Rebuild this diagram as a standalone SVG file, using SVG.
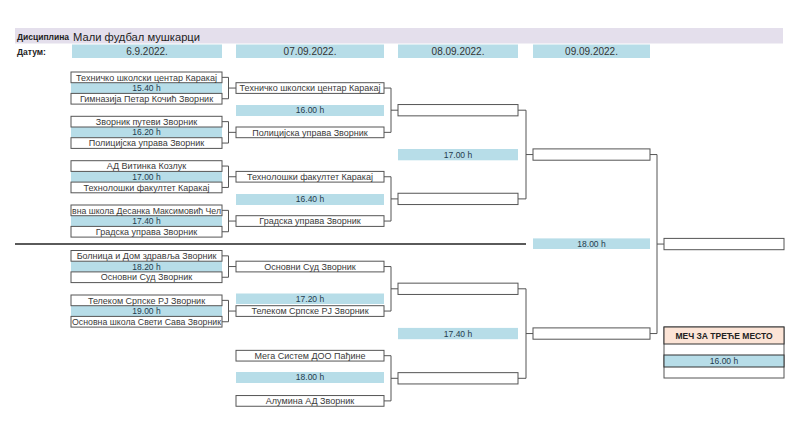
<svg xmlns="http://www.w3.org/2000/svg" width="800" height="445" viewBox="0 0 800 445">
<style>
.bg{fill:#ffffff}
.hdr{fill:#e4dfec}
.band{fill:#b7dde8}
.box{fill:#ffffff;stroke:#555555;stroke-width:1}
.t{font-family:"Liberation Sans",Arial,sans-serif;font-size:9px;fill:#3a3a3a;text-anchor:middle}
.tm{font-family:"Liberation Sans",Arial,sans-serif;font-size:8.5px;fill:#1f3b4d;text-anchor:middle}
.d{font-family:"Liberation Sans",Arial,sans-serif;font-size:10px;fill:#333333;text-anchor:middle}
.lb{font-family:"Liberation Sans",Arial,sans-serif;font-size:8.5px;font-weight:bold;fill:#222222}
.conn{fill:none;stroke:#555555;stroke-width:1}
</style>
<rect class="bg" x="0" y="0" width="800" height="445"/>
<g id="header">
<rect class="hdr" x="15" y="28" width="768" height="15.5"/>
<text class="lb" x="17" y="40">Дисциплина</text>
<text x="73" y="40.5" style="font-family:'Liberation Sans',Arial,sans-serif;font-size:11.2px;fill:#222">Мали фудбал мушкарци</text>
<text class="lb" x="17" y="55">Датум:</text>
</g>
<g id="dates">
<rect class="band" x="72" y="44.5" width="150" height="13.5"/><text class="d" x="147" y="55">6.9.2022.</text>
<rect class="band" x="236" y="44.5" width="148" height="13.5"/><text class="d" x="310" y="55">07.09.2022.</text>
<rect class="band" x="398" y="44.5" width="120" height="13.5"/><text class="d" x="458" y="55">08.09.2022.</text>
<rect class="band" x="533" y="44.5" width="117" height="13.5"/><text class="d" x="591.5" y="55">09.09.2022.</text>
</g>
<line id="divider" x1="15" y1="244" x2="526" y2="244" stroke="#5a5a5a" stroke-width="2"/>
<g id="connectors">
<path class="conn" d="M222 77.35H228.5V98.75H222M228.5 88.05H236"/>
<path class="conn" d="M222 121.65H228.5V143.05H222M228.5 132.35H236"/>
<path class="conn" d="M222 166.05H228.5V187.45H222M228.5 176.75H236"/>
<path class="conn" d="M222 210.35H228.5V231.75H222M228.5 221.05H236"/>
<path class="conn" d="M222 255.85H228.5V277.25H222M228.5 266.55H236"/>
<path class="conn" d="M222 300.35H228.5V321.75H222M228.5 311.05H236"/>
<path class="conn" d="M384 88.05H391V132.35H384M391 110.2H398"/>
<path class="conn" d="M384 176.75H391V221.05H384M391 198.9H398"/>
<path class="conn" d="M384 266.55H391V311.05H384M391 288.8H398"/>
<path class="conn" d="M384 355.7H391V400.9H384M391 378.3H398"/>
<path class="conn" d="M518 110.2H526V198.9H518M526 154.55H533"/>
<path class="conn" d="M518 288.8H526V378.3H518M526 333.55H533"/>
<path class="conn" d="M650 154.55H657V333.55H650M657 244.05H664"/>
</g>
<g id="m1">
<rect class="band" x="71" y="82.7" width="151" height="10.7"/>
<rect class="box" x="71" y="72" width="151" height="10.7"/>
<rect class="box" x="71" y="93.4" width="151" height="10.7"/>
<text class="t" x="146.5" y="80.5">Техничко школски центар Каракај</text>
<text class="tm" x="146.5" y="91.1">15.40 h</text>
<text class="t" x="146.5" y="101.9">Гимназија Петар Кочић Зворник</text>
</g>
<g id="m2">
<rect class="band" x="71" y="127" width="151" height="10.7"/>
<rect class="box" x="71" y="116.3" width="151" height="10.7"/>
<rect class="box" x="71" y="137.7" width="151" height="10.7"/>
<text class="t" x="146.5" y="124.8">Зворник путеви Зворник</text>
<text class="tm" x="146.5" y="135.4">16.20 h</text>
<text class="t" x="146.5" y="146.2">Полицијска управа Зворник</text>
</g>
<g id="m3">
<rect class="band" x="71" y="171.4" width="151" height="10.7"/>
<rect class="box" x="71" y="160.7" width="151" height="10.7"/>
<rect class="box" x="71" y="182.1" width="151" height="10.7"/>
<text class="t" x="146.5" y="169.2">АД Витинка Козлук</text>
<text class="tm" x="146.5" y="179.8">17.00 h</text>
<text class="t" x="146.5" y="190.6">Технолошки факултет Каракај</text>
</g>
<g id="m4">
<rect class="band" x="71" y="215.7" width="151" height="10.7"/>
<rect class="box" x="71" y="205" width="151" height="10.7"/>
<rect class="box" x="71" y="226.4" width="151" height="10.7"/>
<text class="t" x="72" y="213.5" style="text-anchor:start" textLength="149" lengthAdjust="spacingAndGlyphs">вна школа Десанка Максимовић Чел</text>
<text class="tm" x="146.5" y="224.1">17.40 h</text>
<text class="t" x="146.5" y="234.9">Градска управа Зворник</text>
</g>
<g id="m5">
<rect class="band" x="71" y="261.2" width="151" height="10.7"/>
<rect class="box" x="71" y="250.5" width="151" height="10.7"/>
<rect class="box" x="71" y="271.9" width="151" height="10.7"/>
<text class="t" x="146.5" y="259">Болница и Дом здравља Зворник</text>
<text class="tm" x="146.5" y="269.6">18.20 h</text>
<text class="t" x="146.5" y="280.4">Основни Суд Зворник</text>
</g>
<g id="m6">
<rect class="band" x="71" y="305.7" width="151" height="10.7"/>
<rect class="box" x="71" y="295" width="151" height="10.7"/>
<rect class="box" x="71" y="316.4" width="151" height="10.7"/>
<text class="t" x="146.5" y="303.5">Телеком Српске РЈ Зворник</text>
<text class="tm" x="146.5" y="314.1">19.00 h</text>
<text class="t" x="72" y="324.9" style="text-anchor:start" textLength="149" lengthAdjust="spacingAndGlyphs">Основна школа Свети Сава Зворник</text>
</g>
<g id="r2a"><rect class="box" x="236" y="82.7" width="148" height="10.7"/><text class="t" x="310" y="91.2">Техничко школски центар Каракај</text></g>
<g id="r2t1"><rect class="band" x="236" y="105" width="148" height="11"/><text class="tm" x="310" y="113.4">16.00 h</text></g>
<g id="r2b"><rect class="box" x="236" y="127" width="148" height="10.7"/><text class="t" x="310" y="135.5">Полицијска управа Зворник</text></g>
<g id="r2c"><rect class="box" x="236" y="171.4" width="148" height="10.7"/><text class="t" x="310" y="179.9">Технолошки факултет Каракај</text></g>
<g id="r2t2"><rect class="band" x="236" y="194" width="148" height="11"/><text class="tm" x="310" y="202.4">16.40 h</text></g>
<g id="r2d"><rect class="box" x="236" y="215.7" width="148" height="10.7"/><text class="t" x="310" y="224.2">Градска управа Зворник</text></g>
<g id="r2e"><rect class="box" x="236" y="261.2" width="148" height="10.7"/><text class="t" x="310" y="269.7">Основни Суд Зворник</text></g>
<g id="r2t3"><rect class="band" x="236" y="293.5" width="148" height="10.5"/><text class="tm" x="310" y="301.7">17.20 h</text></g>
<g id="r2f"><rect class="box" x="236" y="305.7" width="148" height="10.7"/><text class="t" x="310" y="314.2">Телеком Српске РЈ Зворник</text></g>
<g id="r2g"><rect class="box" x="236" y="350.35" width="148" height="10.7"/><text class="t" x="310" y="358.9">Мега Систем ДОО Пађине</text></g>
<g id="r2t4"><rect class="band" x="236" y="372" width="148" height="11"/><text class="tm" x="310" y="380.4">18.00 h</text></g>
<g id="r2h"><rect class="box" x="236" y="395.55" width="148" height="10.7"/><text class="t" x="310" y="404.1">Алумина АД Зворник</text></g>
<g id="r3a"><rect class="box" x="398" y="104.55" width="120" height="11.3"/></g>
<g id="r3t1"><rect class="band" x="398" y="149" width="120" height="11.3"/><text class="tm" x="458" y="157.6">17.00 h</text></g>
<g id="r3b"><rect class="box" x="398" y="193.25" width="120" height="11.3"/></g>
<g id="r3c"><rect class="box" x="398" y="283.15" width="120" height="11.3"/></g>
<g id="r3t2"><rect class="band" x="398" y="327.9" width="120" height="11.3"/><text class="tm" x="458" y="336.5">17.40 h</text></g>
<g id="r3d"><rect class="box" x="398" y="372.65" width="120" height="11.3"/></g>
<g id="r4a"><rect class="box" x="533" y="148.9" width="117" height="11.3"/></g>
<g id="r4t"><rect class="band" x="533" y="238.4" width="117" height="10.6"/><text class="tm" x="591.5" y="246.7">18.00 h</text></g>
<g id="r4b"><rect class="box" x="533" y="327.9" width="117" height="11.3"/></g>
<g id="final"><rect class="box" x="664" y="238.4" width="120" height="11.3"/></g>
<g id="third">
<rect class="box" x="664" y="327" width="120" height="51"/>
<rect x="664" y="327" width="120" height="17" fill="#fce4d6" stroke="#333333" stroke-width="1"/>
<text x="724" y="338.6" style="font-family:'Liberation Sans',Arial,sans-serif;font-size:8.5px;font-weight:bold;fill:#222;text-anchor:middle">МЕЧ ЗА ТРЕЋЕ МЕСТО</text>
<rect x="664" y="355" width="120" height="12" fill="#b7dde8" stroke="#333333" stroke-width="1"/>
<text class="tm" x="724" y="364">16.00 h</text>
</g>
</svg>
